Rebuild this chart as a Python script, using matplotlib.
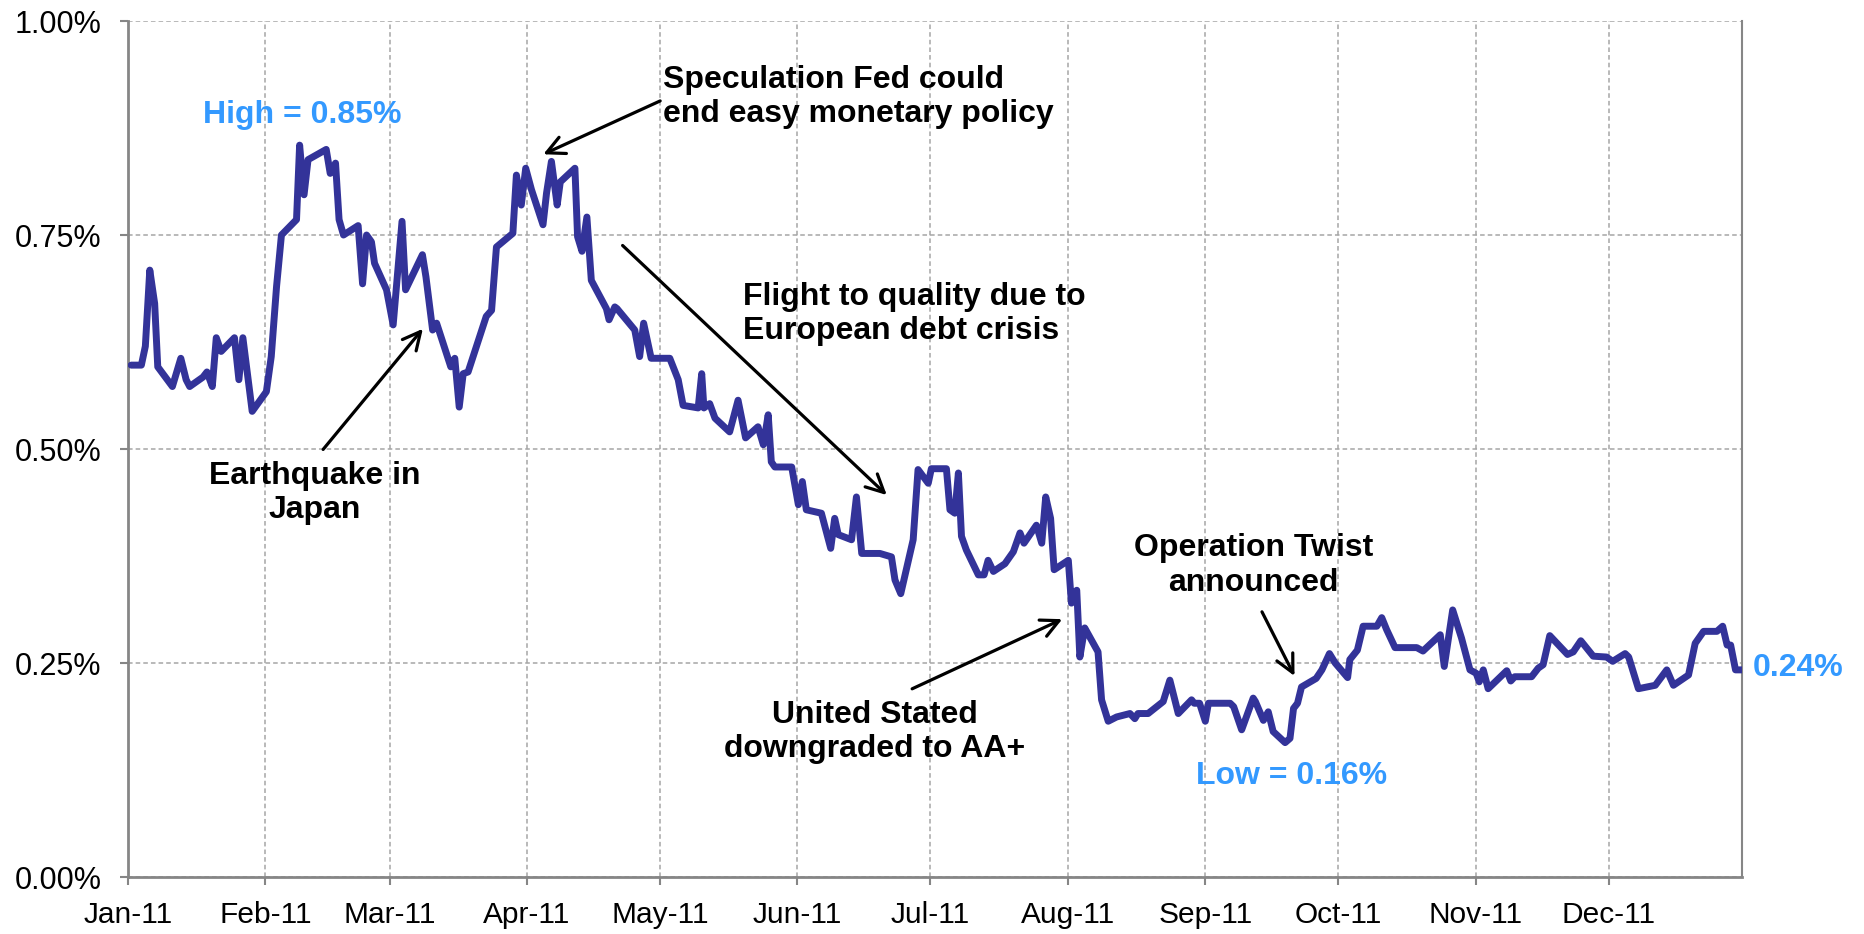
import pandas as pd
import numpy as np
import matplotlib
matplotlib.use("Agg")
import matplotlib.pyplot as plt
import matplotlib.dates as mdates

plt.rcParams['font.family'] = ['Liberation Sans', 'DejaVu Sans']

# 2-year yield during 2011 (day offset from Jan 1, yield in %)
day_of_year = [
    0.7, 3, 3.9, 4.9, 6, 6.7, 10, 11.9, 13.1, 13.9, 16.9, 17.8, 19, 19.9, 21, 24, 25, 25.9, 28,
    31.2, 32.3, 33.5, 34.6, 38, 38.7, 39.7, 40.6, 44.7, 45.6, 46.8, 47.6, 48.6, 51.9, 52.9, 53.8,
    54.9, 55.6, 58.3, 59.8, 61.8, 62.6, 66.4, 67.2, 68.7, 69.6, 72.8, 73.7, 74.7, 75.6, 76.7,
    80.8, 82, 83.1, 86.8, 87.6, 88.7, 89.7, 91, 93.6, 94.4, 95.5, 96.8, 97.5, 100.8, 101.4,
    102.4, 103.5, 104.5, 107.9, 108.5, 109.8, 110.3, 114.3, 115.4, 116.3, 118, 122.2, 124.1,
    125.2, 128.6, 129.4, 129.9, 131.2, 132.4, 135.7, 137.6, 139.3, 142.1, 143.3, 144.4, 145.1,
    145.9, 149.7, 151.2, 152.1, 153, 156.4, 158.5, 159.4, 160.2, 163.2, 164.3, 165.5, 169.6,
    172.2, 173, 174.3, 177.1, 178.2, 180.5, 181.2, 184.6, 185.4, 186.5, 187.3, 188, 189.1,
    191.8, 193.1, 194, 195.2, 197.8, 199.7, 201.2, 202.1, 204.9, 206.1, 207, 208.1, 208.9,
    212.1, 212.8, 214, 214.7, 215.8, 218.8, 219.6, 221.1, 223, 226, 227.1, 227.8, 230.1,
    233.5, 235, 236.9, 239.9, 240.5, 241.7, 243, 243.7, 248.6, 249.4, 251.2, 253.8, 254.3,
    256.1, 257.2, 258.3, 261, 262.1, 262.9, 263.8, 264.7, 268, 269.3, 271, 272.3, 275.1,
    275.6, 277.3, 278.6, 281.7, 282.8, 283.9, 285.8, 290.7, 292.1, 296, 296.9, 298.8, 300.8,
    302.7, 304.1, 304.8, 305.7, 306.8, 311, 311.9, 312.8, 316.6, 318.1, 319.2, 320.7, 324.7,
    326, 327.7, 330.5, 333.5, 334.9, 337.7, 338.5, 340.7, 344.5, 347.1, 348.6, 352, 353.5,
    355.4, 358.4, 359.7, 360.7, 361.5, 362.6, 364,
]
yield_pct = [
    0.598, 0.598, 0.620, 0.709, 0.670, 0.596, 0.573, 0.606, 0.581, 0.573, 0.584, 0.590, 0.573,
    0.630, 0.614, 0.630, 0.581, 0.630, 0.544,
    0.567, 0.608, 0.690, 0.750, 0.768, 0.855, 0.797, 0.838, 0.850, 0.822, 0.834, 0.768, 0.750,
    0.761, 0.693, 0.750, 0.742, 0.717, 0.686, 0.645, 0.766, 0.686, 0.727, 0.701, 0.639, 0.647,
    0.596, 0.606, 0.549, 0.588, 0.590, 0.655, 0.662, 0.736, 0.752, 0.820, 0.785, 0.828, 0.803,
    0.762, 0.799, 0.836, 0.785, 0.812, 0.828, 0.748, 0.731, 0.771, 0.697, 0.664, 0.651, 0.666,
    0.664, 0.639, 0.608, 0.647, 0.606, 0.606, 0.581, 0.551, 0.548, 0.588, 0.548, 0.553, 0.536,
    0.520, 0.557, 0.513, 0.526, 0.505, 0.540, 0.485, 0.479, 0.479, 0.435, 0.462, 0.429, 0.425,
    0.384, 0.419, 0.400, 0.394, 0.444, 0.378, 0.378, 0.374, 0.347, 0.331, 0.394, 0.476, 0.460,
    0.477, 0.477, 0.429, 0.425, 0.472, 0.398, 0.382, 0.353, 0.353, 0.370, 0.357, 0.366, 0.380,
    0.402, 0.390, 0.411, 0.390, 0.444, 0.419, 0.359, 0.370, 0.320, 0.335, 0.257, 0.291, 0.263,
    0.207, 0.182, 0.187, 0.191, 0.185, 0.191, 0.191, 0.205, 0.230, 0.191, 0.207, 0.203, 0.203,
    0.182, 0.203, 0.203, 0.199, 0.172, 0.209, 0.205, 0.183, 0.193, 0.170, 0.157, 0.162, 0.197,
    0.203, 0.222, 0.232, 0.242, 0.261, 0.250, 0.233, 0.254, 0.265, 0.293, 0.293, 0.303, 0.289,
    0.268, 0.268, 0.264, 0.283, 0.246, 0.312, 0.279, 0.242, 0.238, 0.228, 0.242, 0.220, 0.241,
    0.229, 0.234, 0.234, 0.244, 0.248, 0.282, 0.260, 0.263, 0.276, 0.258, 0.257, 0.252, 0.261,
    0.257, 0.220, 0.224, 0.242, 0.224, 0.236, 0.273, 0.287, 0.287, 0.293, 0.271, 0.271, 0.242,
    0.242,
]

# annotations: (text, text day, text value, alignment, arrow tail day/value, arrow tip day/value)
events = [
    ("Speculation Fed could\nend easy monetary policy", 120.6, 0.911, "left", (120.6, 0.908), (93.1, 0.843)),
    ("Flight to quality due to\nEuropean debt crisis", 138.7, 0.658, "left", (111.1, 0.740), (171.6, 0.444)),
    ("Earthquake in\nJapan", 42.1, 0.449, "center", (43.6, 0.497), (66.9, 0.643)),
    ("United Stated\ndowngraded to AA+", 168.4, 0.169, "center", (176.3, 0.2185), (211.3, 0.3026)),
    ("Operation Twist\nannounced", 253.9, 0.364, "center", (255.5, 0.3127), (263.4, 0.232)),
]
highlights = [
    ("High = 0.85%", 39.4, 0.890, "center"),
    ("Low = 0.16%", 262.5, 0.118, "center"),
    ("0.24%", 366.5, 0.244, "left"),
]

start = pd.Timestamp("2011-01-01")
def to_date(d):
    return start + pd.to_timedelta(d, unit="D")

dates = to_date(np.array(day_of_year))

line_color = "#333399"
blue = "#3399FF"
axis_gray = "#868686"

fig = plt.figure(figsize=(18.64, 9.34), dpi=100)
ax = fig.add_axes([0.0687, 0.061, 0.8657, 0.9165])

ax.plot(dates, yield_pct, color=line_color, lw=5, solid_joinstyle="round",
        solid_capstyle="round", zorder=3)

ax.set_xlim(start, pd.Timestamp("2011-12-31"))
ax.set_ylim(0, 1.0)
ax.set_yticks(np.arange(0, 1.01, 0.25))
ax.yaxis.set_major_formatter(plt.FuncFormatter(lambda v, p: "%.2f%%" % v))
ax.xaxis.set_major_locator(mdates.MonthLocator())
ax.xaxis.set_major_formatter(mdates.DateFormatter("%b-%y"))

ax.grid(True, color="#A6A6A6", linestyle=(0, (3, 2)), lw=1.1, zorder=1)
ax.spines["top"].set_visible(False)
ax.spines["left"].set_color(axis_gray)
ax.spines["left"].set_linewidth(2)
ax.spines["bottom"].set_color(axis_gray)
ax.spines["bottom"].set_linewidth(2)
ax.spines["right"].set_color(axis_gray)
ax.spines["right"].set_linewidth(1.5)
ax.tick_params(axis="y", length=6, width=1.5, color=axis_gray, labelsize=22, pad=13)
ax.tick_params(axis="x", length=6, width=1.5, color=axis_gray, labelsize=21.5, pad=11)

for text, tx, ty, ha, tail, tip in events:
    ax.text(to_date(tx), ty, text, ha=ha, va="center", fontsize=23,
            fontweight="bold", color="black", linespacing=1.18)
    ax.annotate("", xy=(to_date(tip[0]), tip[1]), xytext=(to_date(tail[0]), tail[1]),
                arrowprops=dict(arrowstyle="->", lw=2.3, color="black", mutation_scale=32))

for text, tx, ty, ha in highlights:
    ax.text(to_date(tx), ty, text, ha=ha, va="center", fontsize=23,
            fontweight="bold", color=blue, clip_on=False)

fig.savefig("out.png", dpi=100)
